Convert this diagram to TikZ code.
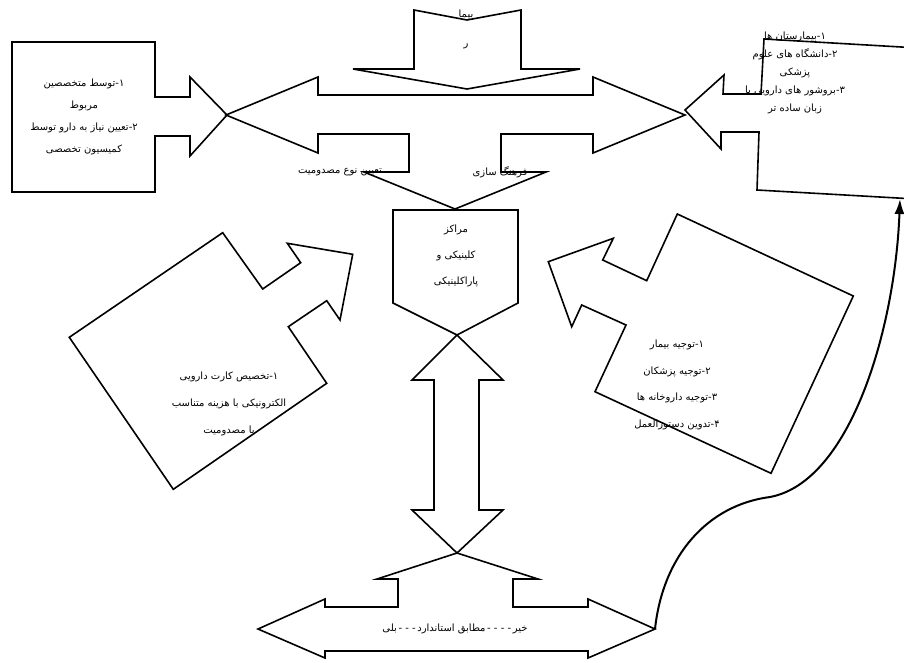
\documentclass[tikz,border=0pt]{standalone}
\usepackage{fontspec}
\usetikzlibrary{arrows.meta}
\TeXXeTstate=1
\newfontfamily\arabicfont[Script=Arabic]{DejaVu Sans}
\newcommand{\rl}[1]{\beginR #1\endR}
\newcommand{\dsh}{\kern1.6pt-\kern1.6pt}
\begin{document}
\begin{tikzpicture}[x=1pt,y=-1pt,
  shapeline/.style={draw=black,line width=1.6pt,line join=miter},
  conn/.style={draw=black,line width=2pt,-{Latex[length=15pt,width=10pt]}},
  txt/.style={inner sep=0pt,align=center,font=\arabicfont\fontsize{10}{#1}\selectfont},
  txt/.default=12]
\useasboundingbox (0,0) rectangle (904,662);
\clip (0,0) rectangle (904,662);
% top notched down arrow
\draw[shapeline] (414,10) -- (467,20) -- (521,10) -- (521,69) -- (580,69) -- (467,89) -- (353,69) -- (414,69) -- cycle;
% left-right-down arrow
\draw[shapeline] (318,95) -- (318,77) -- (226,115) -- (318,153) -- (318,134) -- (409,134) -- (409,172) -- (364,172) -- (455,209) -- (546,172) -- (501,172) -- (501,134) -- (593,134) -- (593,153) -- (685,115) -- (593,77) -- (593,95) -- cycle;
% left box callout
\draw[shapeline] (12,42) -- (155,42) -- (155,97) -- (190,97) -- (190,77) -- (227,115) -- (190,156) -- (190,136) -- (155,136) -- (155,192) -- (12,192) -- cycle;
% right box callout (slightly rotated)
\draw[shapeline] (764,39) -- (915,47.8) -- (915,199) -- (757,190) -- (759,132) -- (721,132) -- (721,149) -- (685,110) -- (724,75) -- (723,94) -- (761,94) -- cycle;
% pentagon
\draw[shapeline] (393,210) -- (518,210) -- (518,303) -- (457,335) -- (393,303) -- cycle;
% vertical double arrow
\draw[shapeline] (457,335) -- (503,380) -- (479,380) -- (479,510) -- (503,510) -- (457,553) -- (412,510) -- (434,510) -- (434,380) -- (412,380) -- cycle;
% bottom left-right-up arrow
\draw[shapeline] (457,553) -- (538,579) -- (513,579) -- (513,607) -- (588,607) -- (588,599) -- (655,629) -- (588,658) -- (588,651) -- (325,651) -- (325,658) -- (258,629) -- (325,599) -- (325,607) -- (398,607) -- (398,579) -- (377,579) -- cycle;
% left rotated callout
\draw[shapeline] (222.7,232.7) -- (262.7,289) -- (300.7,262.7) -- (287.3,243.3) -- (352.7,254.3) -- (340,320) -- (326.7,300.7) -- (288.3,326.7) -- (326.7,383.3) -- (173.3,489.3) -- (69.3,337.3) -- cycle;
% right rotated callout
\draw[shapeline] (677.3,214) -- (853.3,296) -- (771,473.3) -- (595,391.7) -- (626,325) -- (581.7,305) -- (571.7,326.7) -- (548.3,261.7) -- (613.3,238.3) -- (602.7,260) -- (646.7,280.7) -- cycle;
% curved connector
\coordinate (bottip) at (655,629);
\coordinate (rboxbase) at (900,199);
\draw[conn] (bottip) .. controls (663,555) and (708,505) .. (770,497) .. controls (850,482) and (895,330) .. (rboxbase);
% texts
\node[txt=29] (toptxt) at (466,29.5) {\rl{بیما}\\\rl{ر}};
\node[txt=22] (lboxtxt) at (84,116.5) {\rl{۱-توسط متخصصین}\\\rl{مربوط}\\\rl{۲-تعیین نیاز به دارو توسط}\\\rl{کمیسیون تخصصی}};
\node[txt=18] (rboxtxt) at (795,73) {\rl{۱-بیمارستان ها}\\\rl{۲-دانشگاه های علوم}\\\rl{پزشکی}\\\rl{۳-بروشور های دارویی با}\\\rl{زبان ساده تر}};
\node[txt] (lbl1) at (340,172) {\rl{تعیین نوع مصدومیت}};
\node[txt] (lbl2) at (500,172) {\rl{فرهنگ سازی}};
\node[txt=26] (pentxt) at (456,256) {\rl{مراکز}\\\rl{کلینیکی و}\\\rl{پاراکلینیکی}};
\node[txt=27] (lctxt) at (229,404) {\rl{۱-تخصیص کارت دارویی}\\\rl{الکترونیکی با هزینه متناسب}\\\rl{با مصدومیت}};
\node[txt=26.7] (rctxt) at (677,385) {\rl{۱-توجیه بیمار}\\\rl{۲-توجیه پزشکان}\\\rl{۳-توجیه داروخانه ها}\\\rl{۴-تدوین دستورالعمل}};
\node[txt] (bottxt) at (455,629) {\rl{خیر\dsh\dsh\dsh\dsh مطابق استاندارد\dsh\dsh\dsh بلی}};
\end{tikzpicture}
\end{document}
